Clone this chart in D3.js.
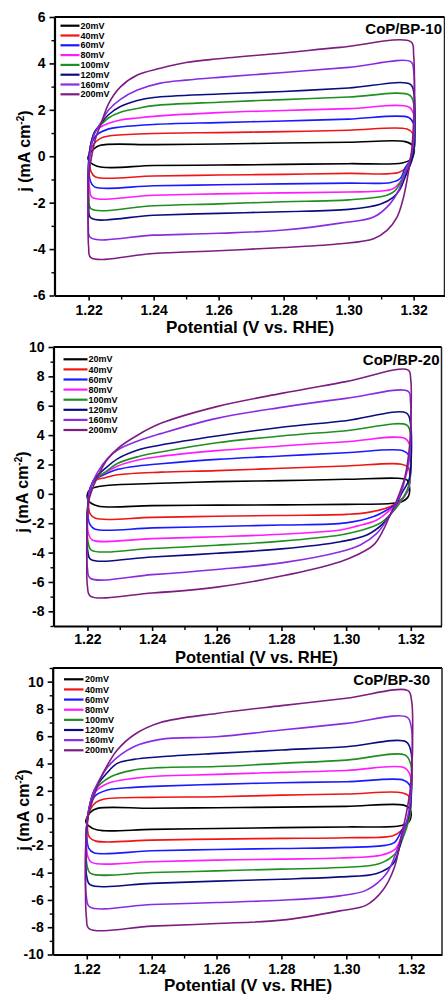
<!DOCTYPE html>
<html>
<head>
<meta charset="utf-8">
<script src="https://cdn.jsdelivr.net/npm/d3@7"></script>
<style>
  body { margin: 0; background: #fff; }
  svg { display: block; }
  text { font-family: "Liberation Sans", Arial, sans-serif; font-weight: bold; fill: #000; }
</style>
</head>
<body>
<svg id="chart" width="445" height="996"></svg>
<script>
// Scan rates and their trace colours
const scanRates = ["20mV", "40mV", "60mV", "80mV", "100mV", "120mV", "160mV", "200mV"];
const seriesColors = ["#000000", "#f01515", "#1a1aff", "#ff1aff", "#1f8f1f", "#0c0c80", "#8a2be2", "#7d1d82"];

// Potential axis (V vs. RHE)
const potentialTicks = [1.22, 1.24, 1.26, 1.28, 1.30, 1.32];
const potentialMinor = [1.23, 1.25, 1.27, 1.29, 1.31];

// Current density ticks (mA cm^-2) for each electrode
const jTicksBP10 = [-6, -4, -2, 0, 2, 4, 6];
const jTicksBP20 = [-8, -6, -4, -2, 0, 2, 4, 6, 8, 10];
const jTicksBP30 = [-10, -8, -6, -4, -2, 0, 2, 4, 6, 8, 10];

// CV loops, [potential, j] in scan order: anodic sweep up the left edge and along the top,
// cathodic sweep down the right edge and back along the bottom. One loop per scan rate.
const loopsBP10 = [
  [[1.2226,-0.43],[1.2198,-0.10],[1.2215,0.30],[1.2236,0.47],[1.24,0.50],[1.26,0.53],[1.28,0.57],[1.30,0.60],[1.3174,0.63],[1.3198,0.45],[1.3202,0.20],[1.3192,-0.12],[1.3165,-0.29],[1.30,-0.32],[1.28,-0.35],[1.26,-0.38],[1.24,-0.40]],
  [[1.2221,-0.89],[1.2207,-0.65],[1.2203,-0.10],[1.2212,0.45],[1.2236,0.77],[1.2266,0.88],[1.24,0.98],[1.26,1.02],[1.28,1.06],[1.30,1.12],[1.3180,1.17],[1.3199,0.95],[1.3203,0.45],[1.3195,0.05],[1.3178,-0.46],[1.3154,-0.70],[1.30,-0.74],[1.28,-0.78],[1.26,-0.81],[1.24,-0.85]],
  [[1.2218,-1.32],[1.2205,-1.05],[1.2201,-0.30],[1.2208,0.50],[1.2225,0.92],[1.2262,1.18],[1.2298,1.26],[1.24,1.37],[1.26,1.45],[1.28,1.52],[1.30,1.60],[1.3185,1.67],[1.3200,1.40],[1.3203,0.80],[1.3196,0.00],[1.3174,-0.50],[1.3159,-0.96],[1.3130,-1.13],[1.30,-1.16],[1.28,-1.19],[1.26,-1.23],[1.24,-1.27]],
  [[1.2211,-1.77],[1.2203,-1.40],[1.2200,-0.50],[1.2205,0.40],[1.2220,1.05],[1.2236,1.25],[1.2262,1.42],[1.2298,1.56],[1.2350,1.65],[1.24,1.72],[1.26,1.88],[1.28,1.97],[1.30,2.05],[1.3185,2.12],[1.3200,1.80],[1.3203,1.00],[1.3197,0.00],[1.3180,-0.60],[1.3162,-1.05],[1.3138,-1.39],[1.3100,-1.50],[1.30,-1.54],[1.28,-1.58],[1.26,-1.62],[1.24,-1.68]],
  [[1.2207,-2.26],[1.2201,-1.80],[1.2199,-0.80],[1.2204,0.30],[1.2218,1.05],[1.2236,1.33],[1.2262,1.66],[1.2298,1.90],[1.2350,2.06],[1.24,2.18],[1.26,2.33],[1.28,2.44],[1.30,2.55],[1.3188,2.63],[1.3201,2.20],[1.3204,1.20],[1.3198,0.00],[1.3178,-0.50],[1.3164,-1.00],[1.3144,-1.47],[1.3118,-1.68],[1.30,-1.88],[1.28,-1.96],[1.26,-2.05],[1.24,-2.13]],
  [[1.2207,-2.66],[1.2200,-2.20],[1.2198,-1.00],[1.2203,0.20],[1.2217,1.00],[1.2236,1.38],[1.2262,1.80],[1.2298,2.14],[1.2350,2.40],[1.24,2.53],[1.26,2.68],[1.28,2.79],[1.30,2.94],[1.3190,3.10],[1.3201,2.70],[1.3204,1.50],[1.3198,0.00],[1.3174,-0.89],[1.3159,-1.40],[1.3138,-1.76],[1.3097,-2.07],[1.30,-2.29],[1.28,-2.39],[1.26,-2.46],[1.24,-2.54]],
  [[1.2206,-3.51],[1.2199,-3.00],[1.2198,-1.50],[1.2203,0.00],[1.2216,0.90],[1.2236,1.40],[1.2262,2.00],[1.2298,2.45],[1.2350,2.85],[1.2421,3.15],[1.25,3.28],[1.26,3.40],[1.28,3.61],[1.30,3.83],[1.3192,4.07],[1.3200,3.70],[1.3203,2.00],[1.3198,0.40],[1.3185,-0.30],[1.3169,-0.89],[1.3154,-1.47],[1.3128,-2.04],[1.3077,-2.62],[1.2974,-2.88],[1.28,-3.18],[1.26,-3.32],[1.24,-3.40]],
  [[1.2207,-4.37],[1.2200,-3.91],[1.2199,-2.19],[1.2201,-0.75],[1.2213,0.26],[1.2222,0.80],[1.2238,1.40],[1.2262,2.28],[1.2298,2.99],[1.2350,3.50],[1.2421,3.79],[1.25,4.04],[1.26,4.20],[1.28,4.45],[1.2974,4.69],[1.3192,4.93],[1.3200,4.37],[1.3202,2.56],[1.3195,0.40],[1.3185,-0.60],[1.3169,-1.76],[1.3149,-2.62],[1.3118,-3.19],[1.3077,-3.55],[1.2974,-3.77],[1.28,-3.93],[1.26,-4.07],[1.24,-4.19]]
];

const loopsBP20 = [
  [[1.2232,-0.83],[1.2203,-0.45],[1.2200,0.00],[1.2213,0.35],[1.2252,0.55],[1.24,0.70],[1.26,0.83],[1.28,0.90],[1.30,0.99],[1.3161,1.06],[1.3188,0.95],[1.3196,0.50],[1.3192,-0.20],[1.3170,-0.55],[1.3136,-0.66],[1.30,-0.72],[1.28,-0.75],[1.26,-0.77],[1.24,-0.80]],
  [[1.2225,-1.67],[1.2208,-1.35],[1.2203,-0.50],[1.2210,0.50],[1.2228,0.95],[1.2255,1.10],[1.2294,1.30],[1.2427,1.48],[1.26,1.58],[1.28,1.74],[1.30,1.90],[1.3171,2.02],[1.3192,1.80],[1.3197,1.00],[1.3190,0.20],[1.3165,-0.50],[1.3136,-0.88],[1.3064,-1.28],[1.30,-1.40],[1.28,-1.47],[1.26,-1.53],[1.24,-1.60]],
  [[1.2222,-2.39],[1.2206,-2.00],[1.2201,-1.00],[1.2207,0.30],[1.2225,1.00],[1.2256,1.35],[1.2294,1.67],[1.2356,1.90],[1.2427,2.05],[1.26,2.35],[1.28,2.58],[1.30,2.80],[1.3176,2.94],[1.3195,2.60],[1.3199,1.50],[1.3192,0.30],[1.3165,-0.55],[1.3136,-0.97],[1.3085,-1.55],[1.30,-1.98],[1.28,-2.12],[1.26,-2.22],[1.24,-2.32]],
  [[1.2215,-3.14],[1.2203,-2.70],[1.2200,-1.50],[1.2205,0.00],[1.2222,1.00],[1.2256,1.45],[1.2294,1.90],[1.2356,2.30],[1.2427,2.55],[1.26,2.94],[1.28,3.26],[1.30,3.55],[1.3181,3.78],[1.3197,3.30],[1.3200,2.00],[1.3193,0.40],[1.3165,-0.60],[1.3136,-1.10],[1.3095,-1.78],[1.3033,-2.20],[1.2982,-2.46],[1.28,-2.75],[1.26,-2.92],[1.24,-3.05]],
  [[1.2212,-3.83],[1.2202,-3.30],[1.2199,-2.00],[1.2204,-0.30],[1.2220,0.90],[1.2256,1.50],[1.2294,2.08],[1.2356,2.53],[1.2427,2.85],[1.26,3.48],[1.28,3.94],[1.30,4.30],[1.3187,4.69],[1.3199,4.10],[1.3201,2.50],[1.3194,0.60],[1.3170,-0.50],[1.3141,-1.30],[1.3105,-2.00],[1.3044,-2.50],[1.2982,-2.80],[1.28,-3.22],[1.26,-3.50],[1.24,-3.72]],
  [[1.2210,-4.46],[1.2201,-3.90],[1.2198,-2.50],[1.2203,-0.50],[1.2218,0.90],[1.2256,1.75],[1.2294,2.40],[1.2356,2.99],[1.2427,3.33],[1.26,3.94],[1.28,4.53],[1.30,4.98],[1.3187,5.50],[1.3199,4.80],[1.3202,3.00],[1.3195,1.00],[1.3171,0.00],[1.3146,-1.10],[1.3115,-2.01],[1.3064,-2.80],[1.2982,-3.26],[1.28,-3.75],[1.26,-4.05],[1.24,-4.30]],
  [[1.2209,-5.75],[1.2200,-5.10],[1.2198,-3.50],[1.2202,-1.00],[1.2210,0.40],[1.2232,1.50],[1.2262,2.40],[1.2294,3.00],[1.2356,3.60],[1.2427,4.10],[1.26,5.14],[1.28,5.89],[1.30,6.50],[1.3192,6.98],[1.3199,6.30],[1.3200,4.50],[1.3196,2.50],[1.3176,0.49],[1.3151,-0.88],[1.3126,-1.78],[1.3095,-2.69],[1.3044,-3.48],[1.2982,-3.94],[1.28,-4.70],[1.26,-5.15],[1.24,-5.50]],
  [[1.2209,-6.96],[1.2200,-6.30],[1.2198,-4.50],[1.2199,-2.00],[1.2204,-0.50],[1.2220,0.60],[1.2240,1.55],[1.2262,2.35],[1.2294,3.10],[1.2356,4.01],[1.2427,4.80],[1.26,5.94],[1.28,6.84],[1.30,7.64],[1.3192,8.43],[1.3200,7.75],[1.3201,5.71],[1.3197,3.44],[1.3182,1.17],[1.3157,-0.42],[1.3136,-1.44],[1.3115,-2.46],[1.3085,-3.48],[1.3033,-4.17],[1.2982,-4.62],[1.28,-5.60],[1.26,-6.35],[1.24,-6.75]]
];

const loopsBP30 = [
  [[1.2233,-0.88],[1.2205,-0.55],[1.2197,-0.27],[1.2210,0.40],[1.2233,0.71],[1.24,0.72],[1.26,0.76],[1.28,0.80],[1.30,0.86],[1.3177,0.95],[1.3195,0.70],[1.3200,0.20],[1.3194,-0.25],[1.3170,-0.55],[1.30,-0.65],[1.28,-0.70],[1.26,-0.76],[1.24,-0.83]],
  [[1.2228,-1.69],[1.2208,-1.40],[1.2202,-0.60],[1.2210,0.60],[1.2228,1.15],[1.2254,1.40],[1.24,1.52],[1.26,1.56],[1.28,1.68],[1.30,1.76],[1.3171,1.86],[1.3193,1.60],[1.3198,0.80],[1.3192,-0.20],[1.3170,-0.90],[1.3144,-1.30],[1.30,-1.44],[1.28,-1.49],[1.26,-1.54],[1.24,-1.62]],
  [[1.2222,-2.55],[1.2206,-2.20],[1.2200,-1.20],[1.2206,0.50],[1.2225,1.60],[1.2264,2.05],[1.2345,2.25],[1.2427,2.34],[1.26,2.47],[1.28,2.59],[1.30,2.66],[1.3177,2.78],[1.3196,2.40],[1.3199,1.20],[1.3192,0.00],[1.3169,-1.00],[1.3148,-1.80],[1.3120,-2.00],[1.30,-2.15],[1.28,-2.23],[1.26,-2.30],[1.24,-2.40]],
  [[1.2215,-3.25],[1.2203,-2.80],[1.2199,-1.50],[1.2205,0.50],[1.2225,1.90],[1.2264,2.54],[1.2345,2.91],[1.2427,3.08],[1.26,3.20],[1.28,3.35],[1.30,3.49],[1.3177,3.70],[1.3196,3.20],[1.3200,1.80],[1.3193,0.20],[1.3172,-1.20],[1.3150,-2.30],[1.3110,-2.70],[1.2980,-2.93],[1.28,-3.01],[1.26,-3.08],[1.24,-3.20]],
  [[1.2212,-4.05],[1.2201,-3.50],[1.2198,-2.00],[1.2204,0.30],[1.2224,2.00],[1.2274,3.03],[1.2345,3.52],[1.2427,3.70],[1.26,3.78],[1.28,4.01],[1.30,4.25],[1.3181,4.62],[1.3198,4.00],[1.3201,2.00],[1.3194,0.00],[1.3174,-1.50],[1.3155,-2.50],[1.3103,-3.33],[1.2980,-3.62],[1.28,-3.74],[1.26,-3.87],[1.24,-3.99]],
  [[1.2210,-4.88],[1.2200,-4.30],[1.2197,-2.50],[1.2203,0.00],[1.2222,2.00],[1.2262,3.30],[1.2294,4.01],[1.2345,4.30],[1.2427,4.49],[1.26,4.74],[1.28,4.99],[1.30,5.23],[1.3184,5.59],[1.3199,4.90],[1.3202,3.00],[1.3195,0.50],[1.3172,-1.40],[1.3145,-3.33],[1.3094,-4.06],[1.2980,-4.31],[1.28,-4.48],[1.26,-4.62],[1.24,-4.79]],
  [[1.2209,-6.51],[1.2199,-5.80],[1.2196,-3.50],[1.2200,-0.50],[1.2215,1.50],[1.2233,2.54],[1.2274,4.01],[1.2345,5.23],[1.2427,5.77],[1.26,5.96],[1.28,6.45],[1.30,6.94],[1.3187,7.40],[1.3200,6.70],[1.3203,4.00],[1.3195,0.80],[1.3180,-0.80],[1.3160,-2.11],[1.3124,-4.06],[1.3062,-5.28],[1.2980,-5.70],[1.28,-6.02],[1.26,-6.19],[1.24,-6.34]],
  [[1.2207,-8.10],[1.2199,-7.30],[1.2196,-5.00],[1.2197,-2.11],[1.2202,-0.10],[1.2222,1.60],[1.2243,2.95],[1.2264,3.90],[1.2294,4.99],[1.2345,6.09],[1.2427,7.00],[1.26,7.67],[1.28,8.24],[1.30,8.78],[1.3190,9.34],[1.3201,8.65],[1.3204,5.23],[1.3198,2.29],[1.3185,0.34],[1.3169,-1.37],[1.3149,-3.57],[1.3113,-5.28],[1.3062,-6.38],[1.2980,-6.80],[1.28,-7.48],[1.26,-7.73],[1.24,-7.92]]
];

// Layout of the three stacked panels
const panels = [
  { label: "CoP/BP-10", loops: loopsBP10, jTicks: jTicksBP10, jDomain: [-6, 6],
    box: { left: 54.5, right: 444.5, top: 17, bottom: 295.5 }, xPad: 5,
    legend: { x1: 60.5, x2: 79.5, tx: 80.5, y0: 25.7, dy: 9.8 },
    labelPos: [442, 33.5], xTitle: [250, 333, 17], yTitle: [30, 151] },
  { label: "CoP/BP-20", loops: loopsBP20, jTicks: jTicksBP20, jDomain: [-9, 10],
    box: { left: 53.5, right: 441.5, top: 347, bottom: 626 }, xPad: 3,
    legend: { x1: 63.5, x2: 87.5, tx: 88.5, y0: 359.3, dy: 10.1 },
    labelPos: [439.5, 365], xTitle: [256.5, 663, 16.5], yTitle: [28, 492] },
  { label: "CoP/BP-30", loops: loopsBP30, jTicks: jTicksBP30, jDomain: [-10, 11],
    box: { left: 52.7, right: 442, top: 668, bottom: 954.5 }, xPad: 5,
    legend: { x1: 64, x2: 83.5, tx: 85, y0: 679.3, dy: 10.14 },
    labelPos: [430, 684.5], xTitle: [248, 991, 17], yTitle: [29, 810] }
];

const svg = d3.select("#chart");

panels.forEach(p => {
  const g = svg.append("g");
  const x = d3.scaleLinear().domain([1.2095, 1.3295]).range([p.box.left, p.box.right]);
  const y = d3.scaleLinear().domain(p.jDomain).range([p.box.bottom, p.box.top]);

  // CV loops
  const line = d3.line()
    .x(d => x(d[0]))
    .y(d => y(d[1]))
    .curve(d3.curveCatmullRomClosed.alpha(0.5));
  g.selectAll("path.loop")
    .data(p.loops)
    .join("path")
    .attr("class", "loop")
    .attr("d", line)
    .attr("fill", "none")
    .attr("stroke", (d, i) => seriesColors[i])
    .attr("stroke-width", 1.6)
    .attr("stroke-linejoin", "round");

  // Frame (top and right)
  g.append("line").attr("x1", p.box.left).attr("x2", p.box.right)
    .attr("y1", p.box.top).attr("y2", p.box.top)
    .attr("stroke", "#000").attr("stroke-width", 2);
  g.append("line").attr("x1", p.box.right).attr("x2", p.box.right)
    .attr("y1", p.box.top).attr("y2", p.box.bottom)
    .attr("stroke", "#222").attr("stroke-width", 1.5);

  // Bottom axis
  const xMinor = g.append("g").attr("transform", `translate(0,${p.box.bottom})`)
    .call(d3.axisBottom(x).tickValues(potentialMinor).tickSize(4).tickSizeOuter(0).tickFormat(""));
  xMinor.select(".domain").remove();
  const xAxis = g.append("g").attr("transform", `translate(0,${p.box.bottom})`)
    .call(d3.axisBottom(x).tickValues(potentialTicks).tickSize(5).tickSizeOuter(0)
      .tickPadding(p.xPad).tickFormat(d3.format(".2f")));
  xAxis.selectAll("text").style("font-size", "14px").style("font-family", null)
    .attr("fill", "#000");

  // Left axis
  const minorJ = d3.range(p.jDomain[0], p.jDomain[1] + 1).filter(v => !p.jTicks.includes(v));
  const yMinor = g.append("g").attr("transform", `translate(${p.box.left},0)`)
    .call(d3.axisLeft(y).tickValues(minorJ).tickSize(3).tickSizeOuter(0).tickFormat(""));
  yMinor.select(".domain").remove();
  const yAxis = g.append("g").attr("transform", `translate(${p.box.left},0)`)
    .call(d3.axisLeft(y).tickValues(p.jTicks).tickSize(5).tickSizeOuter(0)
      .tickPadding(4).tickFormat(d => String(d)));
  yAxis.selectAll("text").style("font-size", "14px").style("font-family", null)
    .attr("fill", "#000");

  [xAxis, yAxis].forEach(a => {
    a.select(".domain").attr("stroke-width", 2.2);
    a.selectAll(".tick line").attr("stroke-width", 1.6);
  });
  [xMinor, yMinor].forEach(a => a.selectAll(".tick line").attr("stroke-width", 1.4));

  // Axis titles
  g.append("text")
    .attr("x", p.xTitle[0]).attr("y", p.xTitle[1])
    .attr("text-anchor", "middle")
    .style("font-size", p.xTitle[2] + "px")
    .text("Potential (V vs. RHE)");

  const yt = g.append("text")
    .attr("transform", `translate(${p.yTitle[0]},${p.yTitle[1]}) rotate(-90)`)
    .attr("text-anchor", "middle")
    .style("font-size", "16px");
  yt.append("tspan").text("j (mA cm");
  yt.append("tspan").attr("dy", -6).style("font-size", "10px").text("-2");
  yt.append("tspan").attr("dy", 6).text(")");

  // Panel label
  g.append("text")
    .attr("x", p.labelPos[0]).attr("y", p.labelPos[1])
    .attr("text-anchor", "end")
    .style("font-size", "15px")
    .text(p.label);

  // Legend
  const lg = g.selectAll("g.legend-row")
    .data(scanRates)
    .join("g")
    .attr("class", "legend-row")
    .attr("transform", (d, i) => `translate(0,${p.legend.y0 + i * p.legend.dy})`);
  lg.append("line")
    .attr("x1", p.legend.x1).attr("x2", p.legend.x2)
    .attr("stroke", (d, i) => seriesColors[i])
    .attr("stroke-width", 2.2);
  lg.append("text")
    .attr("x", p.legend.tx).attr("dy", "0.35em")
    .style("font-size", "9px")
    .text(d => d);
});
</script>
</body>
</html>
